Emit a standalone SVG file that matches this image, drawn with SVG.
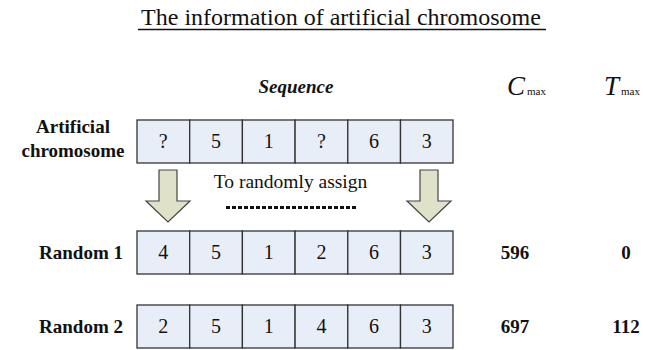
<svg xmlns="http://www.w3.org/2000/svg" width="649" height="350" viewBox="0 0 649 350">
<style>
  .cell { fill: #e8eef8; stroke: #333; stroke-width: 1.3; }
  .num { font-family: "Liberation Serif", "Times New Roman", serif; font-size: 20px; fill: #111; text-anchor: middle; }
  .lbl { font-family: "Liberation Serif", "Times New Roman", serif; font-size: 19px; font-weight: bold; fill: #111; }
  .val { font-family: "Liberation Serif", "Times New Roman", serif; font-size: 19px; font-weight: bold; fill: #111; text-anchor: middle; }
  .arrow { fill: #dfe2c8; stroke: #444; stroke-width: 1.2; }
</style>
<rect width="649" height="350" fill="#fff"/>
<g id="title">
  <text x="341" y="25" font-family="'Liberation Serif', 'Times New Roman', serif" font-size="24" text-anchor="middle" fill="#111">The information of artificial chromosome</text>
  <line x1="138" y1="29.5" x2="546" y2="29.5" stroke="#111" stroke-width="1.3"/>
</g>
<g id="headers">
  <text x="296" y="93" font-family="'Liberation Serif', 'Times New Roman', serif" font-size="19" font-weight="bold" font-style="italic" text-anchor="middle" fill="#111">Sequence</text>
  <text x="507" y="95" font-family="'Liberation Serif', 'Times New Roman', serif" font-size="27" font-style="italic" fill="#111">C<tspan font-size="11" font-style="normal" dx="2">max</tspan></text>
  <text x="604" y="95" font-family="'Liberation Serif', 'Times New Roman', serif" font-size="27" font-style="italic" fill="#111">T<tspan font-size="11" font-style="normal" dx="2">max</tspan></text>
</g>
<g id="row-artificial">
  <text class="lbl" x="73" y="132.7" text-anchor="middle">Artificial</text>
  <text class="lbl" x="73" y="156.7" text-anchor="middle">chromosome</text>
  <rect class="cell" x="137" y="120" width="52.7" height="43"/>
  <rect class="cell" x="189.7" y="120" width="52.7" height="43"/>
  <rect class="cell" x="242.4" y="120" width="52.7" height="43"/>
  <rect class="cell" x="295.1" y="120" width="52.7" height="43"/>
  <rect class="cell" x="347.8" y="120" width="52.7" height="43"/>
  <rect class="cell" x="400.5" y="120" width="52.5" height="43"/>
  <text class="num" x="163.3" y="148">?</text>
  <text class="num" x="216" y="148">5</text>
  <text class="num" x="268.7" y="148">1</text>
  <text class="num" x="321.4" y="148">?</text>
  <text class="num" x="374.1" y="148">6</text>
  <text class="num" x="426.7" y="148">3</text>
</g>
<g id="assign">
  <path class="arrow" d="M159,170 H177 V201 H190 L168,222 L146,201 H159 Z"/>
  <path class="arrow" d="M420,170 H438 V201 H451 L429,222 L407,201 H420 Z"/>
  <text x="290.5" y="188" font-family="'Liberation Serif', 'Times New Roman', serif" font-size="19.5" text-anchor="middle" fill="#111">To randomly assign</text>
  <line x1="226" y1="207.5" x2="357" y2="207.5" stroke="#111" stroke-width="3" stroke-dasharray="4 2"/>
</g>
<g id="row-random1">
  <text class="lbl" x="123" y="259" text-anchor="end">Random 1</text>
  <rect class="cell" x="137" y="231" width="52.7" height="43"/>
  <rect class="cell" x="189.7" y="231" width="52.7" height="43"/>
  <rect class="cell" x="242.4" y="231" width="52.7" height="43"/>
  <rect class="cell" x="295.1" y="231" width="52.7" height="43"/>
  <rect class="cell" x="347.8" y="231" width="52.7" height="43"/>
  <rect class="cell" x="400.5" y="231" width="52.5" height="43"/>
  <text class="num" x="163.3" y="259">4</text>
  <text class="num" x="216" y="259">5</text>
  <text class="num" x="268.7" y="259">1</text>
  <text class="num" x="321.4" y="259">2</text>
  <text class="num" x="374.1" y="259">6</text>
  <text class="num" x="426.7" y="259">3</text>
  <text class="val" x="515" y="259">596</text>
  <text class="val" x="626" y="259">0</text>
</g>
<g id="row-random2">
  <text class="lbl" x="123" y="333" text-anchor="end">Random 2</text>
  <rect class="cell" x="137" y="305" width="52.7" height="43"/>
  <rect class="cell" x="189.7" y="305" width="52.7" height="43"/>
  <rect class="cell" x="242.4" y="305" width="52.7" height="43"/>
  <rect class="cell" x="295.1" y="305" width="52.7" height="43"/>
  <rect class="cell" x="347.8" y="305" width="52.7" height="43"/>
  <rect class="cell" x="400.5" y="305" width="52.5" height="43"/>
  <text class="num" x="163.3" y="333">2</text>
  <text class="num" x="216" y="333">5</text>
  <text class="num" x="268.7" y="333">1</text>
  <text class="num" x="321.4" y="333">4</text>
  <text class="num" x="374.1" y="333">6</text>
  <text class="num" x="426.7" y="333">3</text>
  <text class="val" x="515" y="333">697</text>
  <text class="val" x="626" y="333">112</text>
</g>
</svg>
